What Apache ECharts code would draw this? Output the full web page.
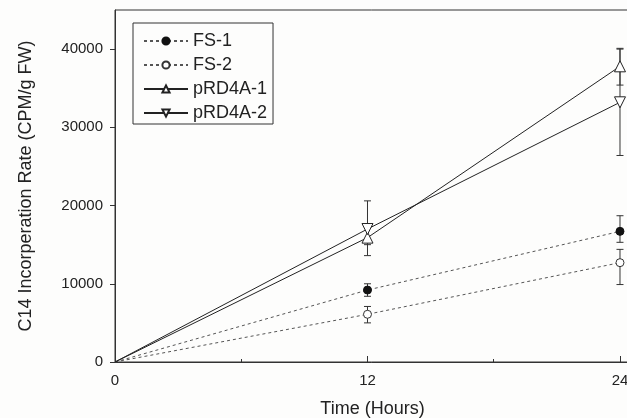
<!DOCTYPE html>
<html>
<head>
<meta charset="utf-8">
<script src="https://cdn.jsdelivr.net/npm/echarts@6/dist/echarts.min.js"></script>
<style>html,body{margin:0;padding:0;background:#fdfdfc;}#c{width:627px;height:418px;}</style>
</head>
<body>
<div id="c"></div>
<script>
const hours = [0, 12, 24];
const xTickLabels = [0, 12, 24];
const yTickLabels = [0, 10000, 20000, 30000, 40000];
const seriesNames = ['FS-1', 'FS-2', 'pRD4A-1', 'pRD4A-2'];
const fs1 = [0, 9200, 16700];
const fs1Hi = [0, 10000, 18700];
const fs1Lo = [0, 8400, 15300];
const fs2 = [0, 6100, 12700];
const fs2Hi = [0, 7100, 14400];
const fs2Lo = [0, 5000, 9900];
const prd1 = [0, 15900, 37800];
const prd1Hi = [0, 17500, 40100];
const prd1Lo = [0, 15000, 35400];
const prd2 = [0, 17000, 33200];
const prd2Hi = [0, 20600, 40000];
const prd2Lo = [0, 13600, 26400];

const chart = echarts.init(document.getElementById('c'), null, {renderer: 'canvas'});
const font = 'Liberation Sans, Arial, sans-serif';
const dark = '#333';

function pts(vals) { return hours.map((h, i) => [h, vals[i]]); }
function errData(hi, lo) { return hours.map((h, i) => [h, lo[i], hi[i]]).filter(d => d[0] !== 0); }

function errSeries(hi, lo) {
  return {
    type: 'custom',
    silent: true,
    legendHoverLink: false,
    z: 1,
    renderItem: function (params, api) {
      const x = api.value(0);
      const p1 = api.coord([x, api.value(1)]);
      const p2 = api.coord([x, api.value(2)]);
      const w = 3.5;
      const st = {stroke: dark, lineWidth: 1};
      return {
        type: 'group',
        children: [
          {type: 'line', shape: {x1: p1[0], y1: p1[1], x2: p2[0], y2: p2[1]}, style: st},
          {type: 'line', shape: {x1: p1[0] - w, y1: p1[1], x2: p1[0] + w, y2: p1[1]}, style: st},
          {type: 'line', shape: {x1: p2[0] - w, y1: p2[1], x2: p2[0] + w, y2: p2[1]}, style: st}
        ]
      };
    },
    encode: {x: 0, y: [1, 2]},
    data: errData(hi, lo)
  };
}

function lineSeries(name, vals, opt) {
  return Object.assign({
    name: name,
    type: 'line',
    data: pts(vals),
    z: 3,
    symbolSize: function (v) { return v[0] === 0 ? 0 : opt.size; },
    itemStyle: opt.itemStyle,
    lineStyle: opt.lineStyle
  }, opt.extra || {});
}

const option = {
  backgroundColor: '#fdfdfc',
  animation: false,
  textStyle: {fontFamily: font},
  grid: {left: 115, top: 10, bottom: 56, right: -3, show: true, borderColor: dark, borderWidth: 1,
         backgroundColor: 'transparent', outerBoundsMode: 'none', containLabel: false},
  legend: {
    orient: 'vertical',
    left: 133, top: 23,
    padding: [9, 6, 2, 10],
    itemWidth: 44, itemHeight: 9, itemGap: 6,
    borderColor: dark, borderWidth: 1,
    textStyle: {fontSize: 18, color: '#222', fontFamily: font},
    data: seriesNames
  },
  xAxis: [{
    type: 'value', min: 0, max: 24.476,
    name: 'Time (Hours)', nameLocation: 'middle', nameGap: 38,
    nameTextStyle: {fontSize: 18, color: '#222'},
    axisLine: {show: true, lineStyle: {color: dark, width: 1}},
    axisTick: {show: true, inside: true, length: 6, customValues: xTickLabels, lineStyle: {color: dark}},
    axisLabel: {fontSize: 15, color: '#222', margin: 11, customValues: xTickLabels},
    splitLine: {show: false}
  }, {
    type: 'value', min: 0, max: 24.476, position: 'bottom',
    axisLine: {show: false},
    axisTick: {show: true, inside: true, length: 3, customValues: [6, 18], lineStyle: {color: dark}},
    axisLabel: {show: false},
    splitLine: {show: false}
  }],
  yAxis: {
    type: 'value', min: 0, max: 45000,
    name: 'C14 Incorperation Rate (CPM/g FW)', nameLocation: 'middle', nameGap: 80,
    nameTextStyle: {fontSize: 18, color: '#222'},
    axisLine: {show: true, lineStyle: {color: dark, width: 1}},
    axisTick: {show: true, inside: false, length: 5, customValues: yTickLabels, lineStyle: {color: dark}},
    axisLabel: {fontSize: 15, color: '#222', margin: 12, customValues: yTickLabels, formatter: function (v) { return String(v); }},
    splitLine: {show: false}
  },
  series: [
    errSeries(fs1Hi, fs1Lo),
    errSeries(fs2Hi, fs2Lo),
    errSeries(prd1Hi, prd1Lo),
    errSeries(prd2Hi, prd2Lo),
    lineSeries('FS-1', fs1, {size: 8,
      itemStyle: {color: '#111', borderColor: '#111', borderWidth: 1},
      lineStyle: {color: '#555', width: 1, type: [3, 3]},
      extra: {symbol: 'circle'}}),
    lineSeries('FS-2', fs2, {size: 8,
      itemStyle: {color: '#fff', borderColor: '#333', borderWidth: 1},
      lineStyle: {color: '#555', width: 1, type: [3, 3]},
      extra: {symbol: 'circle'}}),
    lineSeries('pRD4A-1', prd1, {size: 11,
      itemStyle: {color: '#fff', borderColor: '#222', borderWidth: 1},
      lineStyle: {color: '#222', width: 1},
      extra: {symbol: 'triangle'}}),
    lineSeries('pRD4A-2', prd2, {size: 11,
      itemStyle: {color: '#fff', borderColor: '#222', borderWidth: 1},
      lineStyle: {color: '#222', width: 1},
      extra: {symbol: 'triangle', symbolRotate: 180}})
  ]
};
chart.setOption(option);
</script>
</body>
</html>
